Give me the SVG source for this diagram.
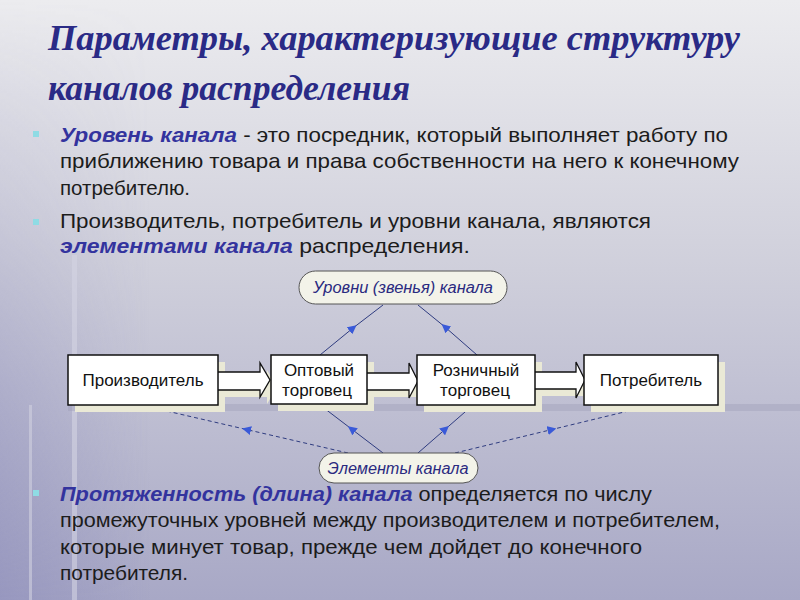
<svg xmlns="http://www.w3.org/2000/svg" width="800" height="600" viewBox="0 0 800 600">
<defs>
<linearGradient id="bg" x1="0" y1="0" x2="0" y2="1">
<stop offset="0" stop-color="#ececef"/>
<stop offset="0.45" stop-color="#cfcfdb"/>
<stop offset="1" stop-color="#a8a8c6"/>
</linearGradient>
<linearGradient id="leftshade" x1="0" y1="0" x2="1" y2="0">
<stop offset="0" stop-color="#8c8cba" stop-opacity="0.6"/>
<stop offset="1" stop-color="#8c8cba" stop-opacity="0"/>
</linearGradient>
<linearGradient id="vfade" x1="0" y1="0" x2="0" y2="1">
<stop offset="0" stop-color="#ffffff" stop-opacity="0"/>
<stop offset="0.4" stop-color="#ffffff" stop-opacity="0.3"/>
<stop offset="1" stop-color="#ffffff" stop-opacity="1"/>
</linearGradient>
<mask id="shadeMask" maskUnits="userSpaceOnUse" x="0" y="0" width="800" height="600">
<rect x="0" y="0" width="800" height="600" fill="url(#vfade)"/>
</mask>
<marker id="ah" viewBox="0 0 10 10" refX="5" refY="5" markerWidth="9" markerHeight="9" markerUnits="userSpaceOnUse" orient="auto">
<path d="M0,0 L10,5 L0,10 Z" fill="#3a5ad8"/>
</marker>
<style>
.title{font-family:"Liberation Serif","Times New Roman",serif;font-weight:bold;font-style:italic;font-size:36px;fill:#2a2a86}
.body{font-family:"Liberation Sans",Arial,sans-serif;font-size:21px;fill:#1c1c1c}
.em{font-weight:bold;font-style:italic;fill:#33339e}
.bul{fill:#8fdbe4}
.box{fill:#ffffff;stroke:#111111;stroke-width:1.5}
.shadow{fill:#eae9d6}
.arrow{fill:#ffffff;stroke:#111111;stroke-width:1.3;stroke-linejoin:miter}
.btxt{font-family:"Liberation Sans",Arial,sans-serif;font-size:17px;fill:#111111;text-anchor:middle}
.pill{fill:#f3f3e9;stroke:#555555;stroke-width:1}
.ptxt{font-family:"Liberation Sans",Arial,sans-serif;font-style:italic;font-size:16px;fill:#2a2a80;text-anchor:middle}
.con{fill:none;stroke:#2f3c80;stroke-width:1;marker-mid:url(#ah)}
.dash{stroke-dasharray:4 3}
</style>
</defs>

<!-- background -->
<rect x="0" y="0" width="800" height="600" fill="url(#bg)"/>
<rect x="0" y="0" width="150" height="600" fill="url(#leftshade)" mask="url(#shadeMask)"/>
<rect x="72" y="255" width="5" height="345" fill="#d4d4e2" opacity="0.6"/>
<rect x="29" y="405" width="3" height="195" fill="#d0d0e0" opacity="0.6"/>
<rect x="68" y="404" width="732" height="7" fill="#9d9db6" opacity="0.4"/>

<!-- title -->
<text class="title" x="48" y="50" textLength="692" lengthAdjust="spacingAndGlyphs">Параметры, характеризующие структуру</text>
<text class="title" x="48" y="100" textLength="362" lengthAdjust="spacingAndGlyphs">каналов распределения</text>

<!-- bullets -->
<rect class="bul" x="33" y="131" width="6" height="6"/>
<text class="body" x="60" y="142" textLength="668" lengthAdjust="spacingAndGlyphs"><tspan class="em">Уровень канала</tspan> - это посредник, который выполняет работу по</text>
<text class="body" x="60" y="168" textLength="679" lengthAdjust="spacingAndGlyphs">приближению товара и права собственности на него к конечному</text>
<text class="body" x="60" y="195" textLength="130" lengthAdjust="spacingAndGlyphs">потребителю.</text>
<rect class="bul" x="33" y="219" width="6" height="6"/>
<text class="body" x="60" y="228" textLength="591" lengthAdjust="spacingAndGlyphs">Производитель, потребитель и уровни канала, являются</text>
<text class="body" x="60" y="253" textLength="410" lengthAdjust="spacingAndGlyphs"><tspan class="em">элементами канала</tspan> распределения.</text>

<rect class="bul" x="33" y="490" width="6" height="6"/>
<text class="body" x="60" y="501" textLength="592" lengthAdjust="spacingAndGlyphs"><tspan class="em">Протяженность (длина) канала</tspan> определяется по числу</text>
<text class="body" x="60" y="527" textLength="660" lengthAdjust="spacingAndGlyphs">промежуточных уровней между производителем и потребителем,</text>
<text class="body" x="60" y="554" textLength="582" lengthAdjust="spacingAndGlyphs">которые минует товар, прежде чем дойдет до конечного</text>
<text class="body" x="60" y="580" textLength="128" lengthAdjust="spacingAndGlyphs">потребителя.</text>

<!-- connectors -->
<g id="connectors">
<path class="con" d="M320,355 L353,328 L383,305"/>
<path class="con" d="M477,355 L445,327 L418,305"/>
<path class="con" d="M383,453 L351.5,429 L320,405"/>
<path class="con" d="M418,453 L445.5,429 L473,405"/>
<path class="con dash" d="M348,453 L246.5,429.5 L145,406"/>
<path class="con dash" d="M455,453 L552,429.5 L649,406"/>
</g>

<!-- shadows -->
<g id="shadows">
<rect class="shadow" x="75" y="362" width="150" height="50"/>
<polygon class="shadow" points="222,379 267,379 267,370 277,387 267,404 267,397 222,397"/>
<rect class="shadow" x="278" y="362" width="96" height="49"/>
<polygon class="shadow" points="372,380 416,380 416,370 425,388 416,405 416,397 372,397"/>
<rect class="shadow" x="424" y="362" width="118" height="50"/>
<polygon class="shadow" points="540,379 583,379 583,369 592,387 583,405 583,396 540,396"/>
<rect class="shadow" x="591" y="362" width="134" height="50"/>
</g>

<!-- block arrows -->
<g id="arrows">
<polygon class="arrow" points="215,372 260,372 260,363 270,380 260,397 260,390 215,390"/>
<polygon class="arrow" points="365,373 409,373 409,363 418,381 409,398 409,390 365,390"/>
<polygon class="arrow" points="533,372 576,372 576,362 585,380 576,398 576,389 533,389"/>
</g>

<!-- nodes -->
<g id="node-proizvoditel">
<rect class="box" x="68" y="355" width="150" height="50"/>
<text class="btxt" x="143" y="386">Производитель</text>
</g>
<g id="node-optovy">
<rect class="box" x="271" y="355" width="96" height="49"/>
<text class="btxt" x="319" y="376">Оптовый</text>
<text class="btxt" x="317" y="396">торговец</text>
</g>
<g id="node-roznichny">
<rect class="box" x="417" y="355" width="118" height="50"/>
<text class="btxt" x="476" y="376">Розничный</text>
<text class="btxt" x="475" y="396">торговец</text>
</g>
<g id="node-potrebitel">
<rect class="box" x="584" y="355" width="134" height="50"/>
<text class="btxt" x="651" y="386">Потребитель</text>
</g>
<g id="node-urovni">
<rect class="pill" x="299" y="271" width="208" height="33" rx="16.5"/>
<text class="ptxt" x="403" y="293" textLength="180" lengthAdjust="spacingAndGlyphs">Уровни (звенья) канала</text>
</g>
<g id="node-elementy">
<rect class="pill" x="319" y="453" width="159" height="30" rx="15"/>
<text class="ptxt" x="398" y="474" textLength="141" lengthAdjust="spacingAndGlyphs">Элементы канала</text>
</g>
</svg>
